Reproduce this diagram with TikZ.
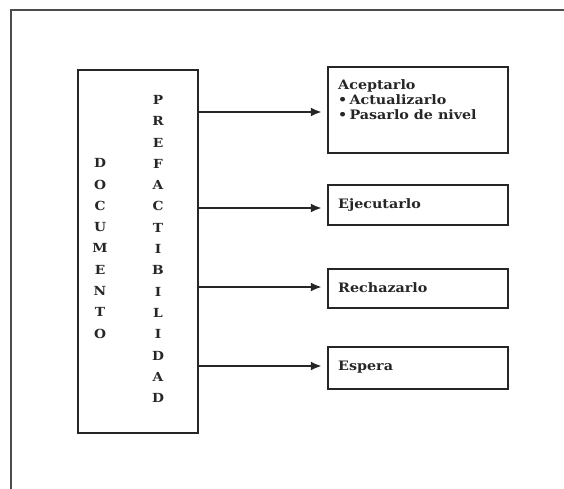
\documentclass[tikz,border=0pt]{standalone}
\usepackage{fontspec}
\setmainfont{DejaVu Serif}[FakeStretch=1.1]
\usetikzlibrary{arrows.meta}
\tikzset{
  frameline/.style={line width=2.2pt, draw=black!70},
  boxshape/.style={draw=black!85, line width=2.3pt, minimum width=180pt, inner sep=0pt},
  label text/.style={font=\bfseries\fontsize{13}{15}\selectfont, align=left, inner sep=0pt, text=black!85},
  column text/.style={font=\bfseries\fontsize{12.5}{21.3}\selectfont, align=center, inner sep=0pt, text=black!85},
  flow/.style={line width=2.6pt, draw=black!85, -{Latex[length=11pt,width=9pt]}, shorten >=5pt},
}
\begin{document}
\begin{tikzpicture}[x=1pt, y=-1pt]
  \useasboundingbox (0,0) rectangle (564,489);

  % open frame: top and left edges
  \coordinate (fr) at (564,10);
  \coordinate (fc) at (11,10);
  \coordinate (fb) at (11,489);
  \draw[frameline] (fr) -- (fc) -- (fb);

  % the document box with its two vertical words
  \node[boxshape, minimum width=120pt, minimum height=363pt] (doc) at (138,251.5) {};
  \node[column text] (w1) at (100,248.5) {D\\O\\C\\U\\M\\E\\N\\T\\O};
  \node[column text] (w2) at (158,249) {P\\R\\E\\F\\A\\C\\T\\I\\B\\I\\L\\I\\D\\A\\D};

  % outcome boxes
  \node[boxshape, minimum height=86pt] (b1) at (418,110) {};
  \node[label text, anchor=north west] (t1) at (338,79)
    {Aceptarlo\\•\,Actualizarlo\\•\,Pasarlo de nivel};
  \node[boxshape, minimum height=40pt] (b2) at (418,205) {};
  \node[label text, anchor=west] (t2) at (338,205) {Ejecutarlo};
  \node[boxshape, minimum height=39pt] (b3) at (418,288.5) {};
  \node[label text, anchor=west] (t3) at (338,288) {Rechazarlo};
  \node[boxshape, minimum height=42pt] (b4) at (418,368) {};
  \node[label text, anchor=west] (t4) at (338,367) {Espera};

  % arrows from the document to each outcome
  \draw[flow] (doc.east |- 0,112) -- (b1.west |- 0,112);
  \draw[flow] (doc.east |- 0,208) -- (b2.west |- 0,208);
  \draw[flow] (doc.east |- 0,287) -- (b3.west |- 0,287);
  \draw[flow] (doc.east |- 0,366) -- (b4.west |- 0,366);
\end{tikzpicture}
\end{document}
